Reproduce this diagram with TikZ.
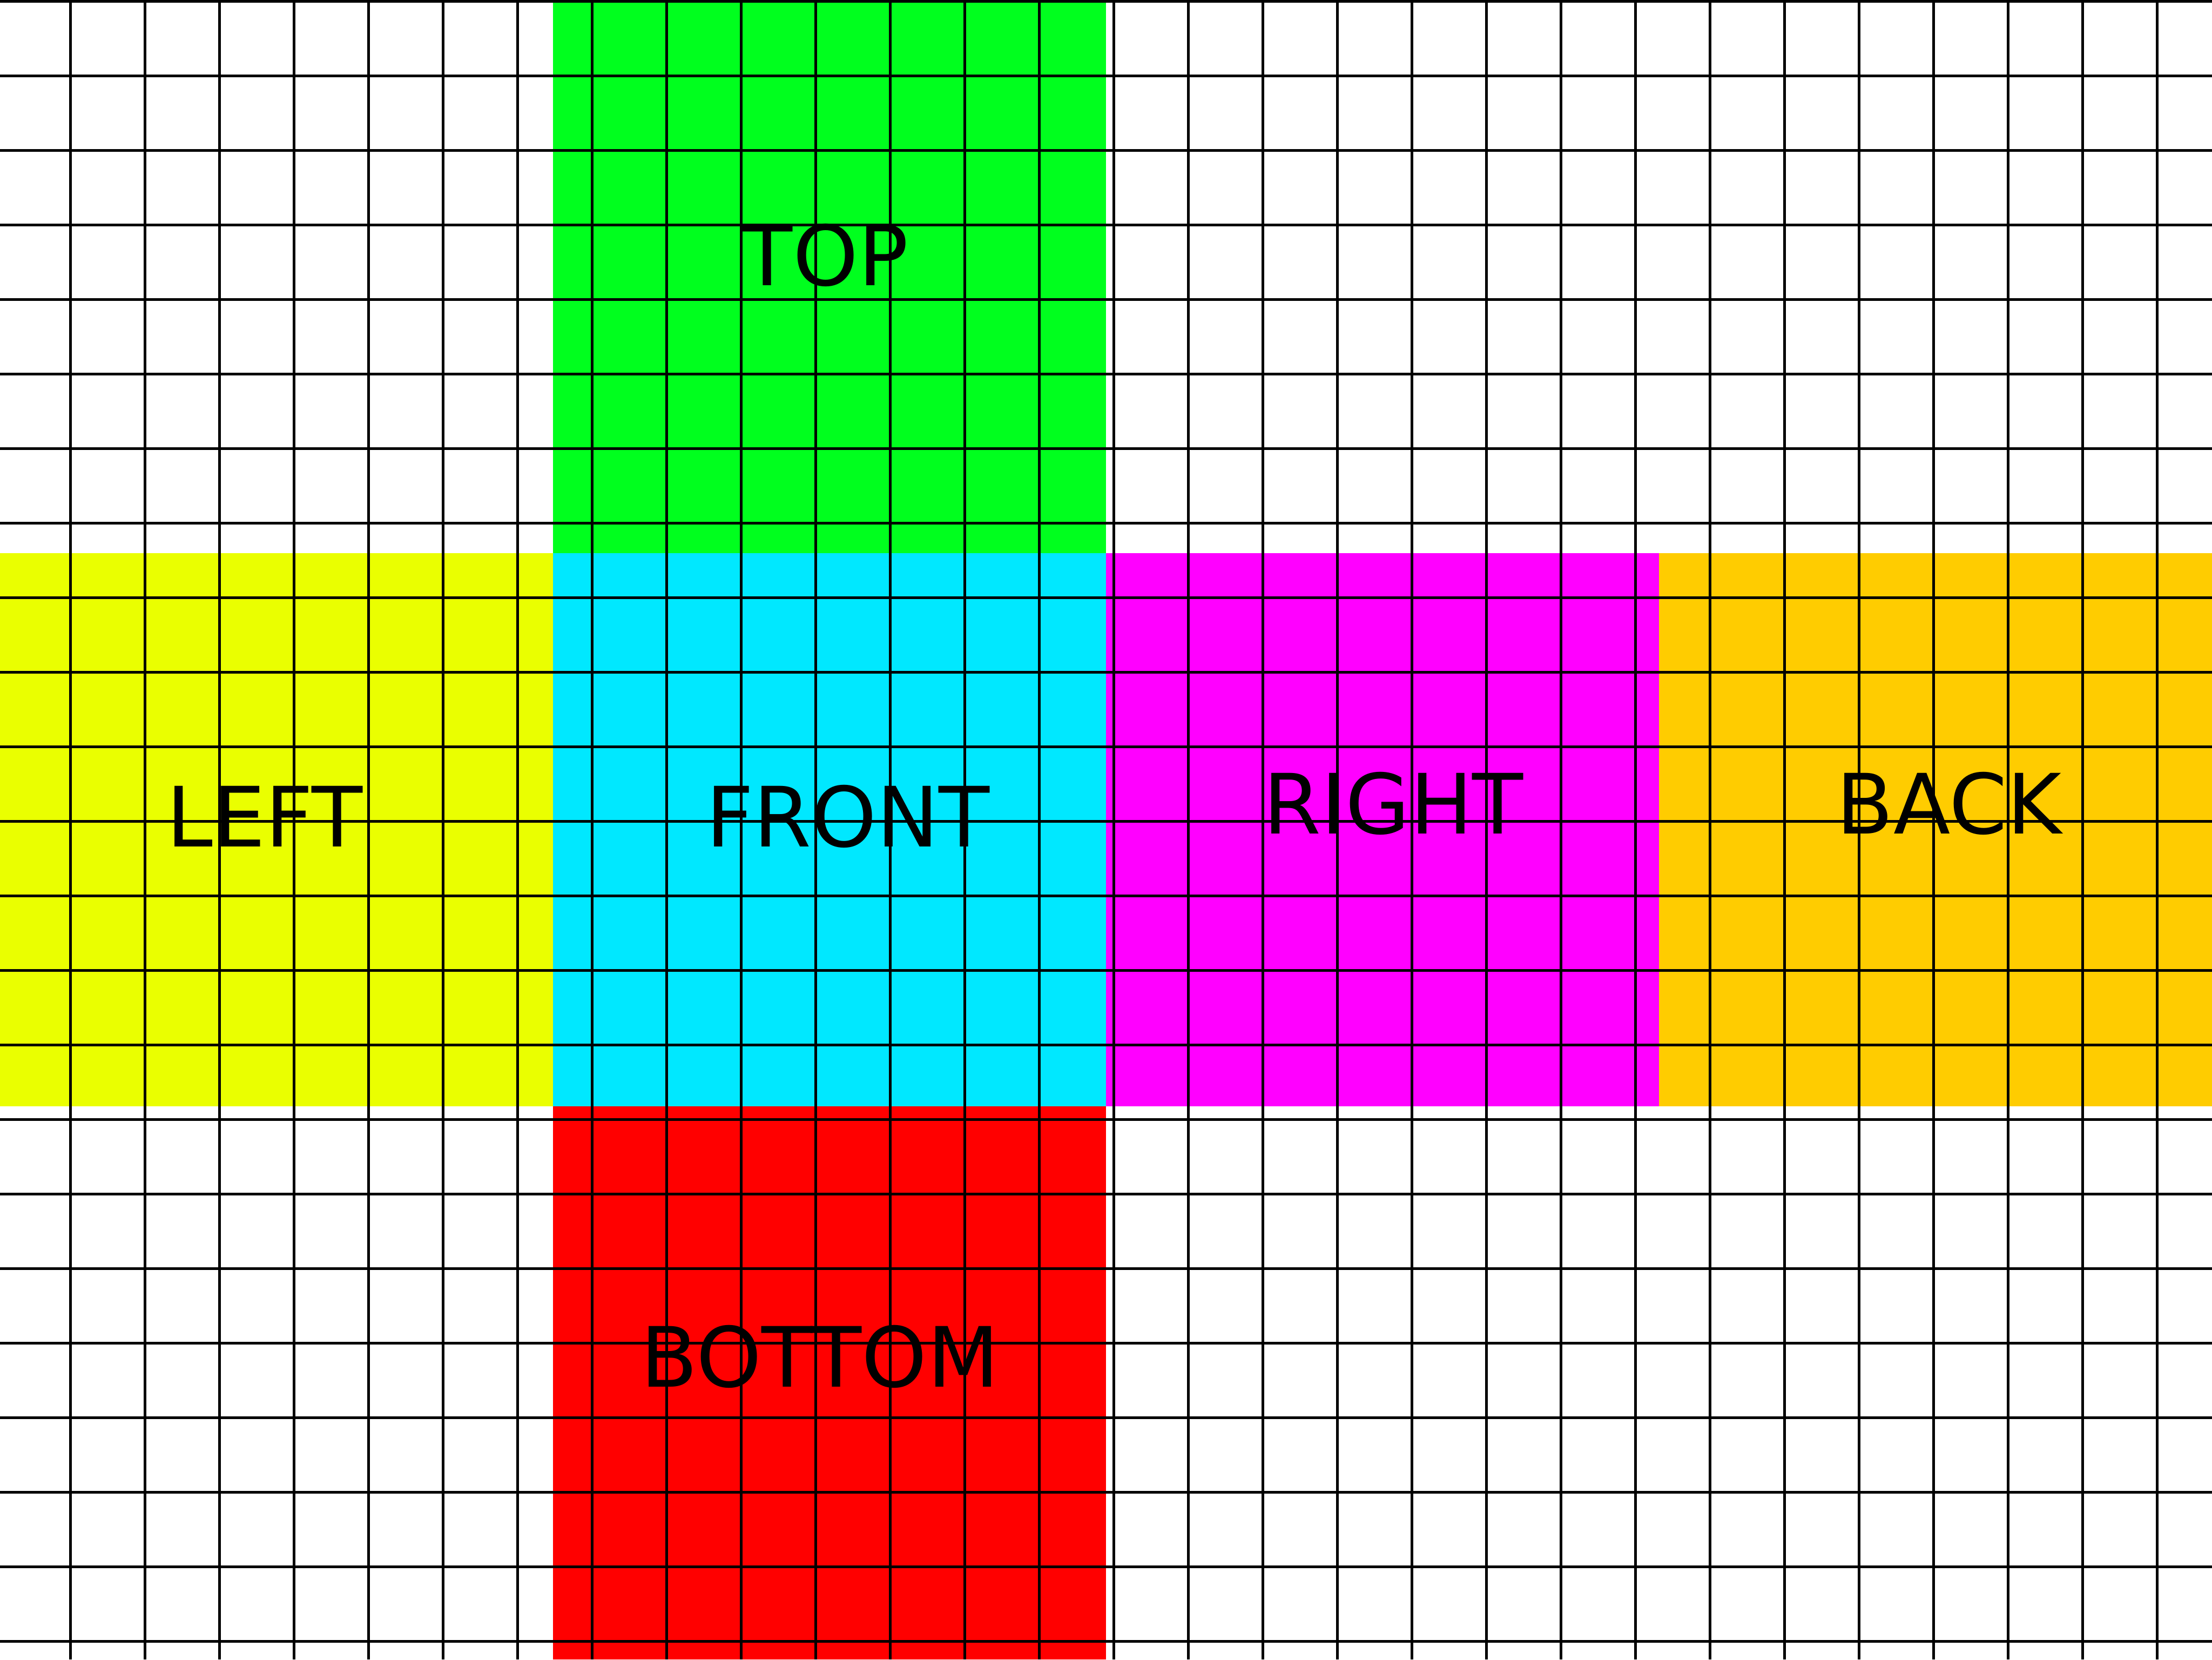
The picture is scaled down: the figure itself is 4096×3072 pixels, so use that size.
\documentclass[tikz,border=0pt]{standalone}
\usepackage{fontspec}
\setmainfont{DejaVu Sans}
\definecolor{ctop}{RGB}{0,255,30}
\definecolor{cleft}{RGB}{234,255,0}
\definecolor{cfront}{RGB}{0,232,255}
\definecolor{cright}{RGB}{255,0,255}
\definecolor{cback}{RGB}{255,204,0}
\definecolor{cbottom}{RGB}{255,0,0}
\begin{document}
\begin{tikzpicture}[x=0.1pt,y=-0.1pt,
  gridline/.style={black,line width=0.47pt},
  facelabel/.style={anchor=base,inner sep=0pt,text=black,font=\fontsize{15.4pt}{18pt}\selectfont}]
\useasboundingbox (0,0) rectangle (4096,3072);
\fill[white] (0,0) rectangle (4096,3072);
% faces
\fill[ctop] (1024,0) rectangle (2048,1024);
\fill[cleft] (0,1024) rectangle (1024,2048);
\fill[cfront] (1024,1024) rectangle (2048,2048);
\fill[cright] (2048,1024) rectangle (3072,2048);
\fill[cback] (3072,1024) rectangle (4096,2048);
\fill[cbottom] (1024,2048) rectangle (2048,3072);
% grid
\foreach \i in {0,...,28} \draw[gridline] ({130.3+138*\i},0) -- ({130.3+138*\i},3072);
\foreach \j in {0,...,22} \draw[gridline] (0,{2.3+138*\j}) -- (4096,{2.3+138*\j});
% labels
\node[facelabel] (top) at (1528,528) {TOP};
\node[facelabel] (left) at (490,1567) {LEFT};
\node[facelabel] (front) at (1570,1567) {FRONT};
\node[facelabel] (right) at (2580,1543) {RIGHT};
\node[facelabel] (back) at (3609,1543) {BACK};
\node[facelabel] (bottom) at (1518,2567) {BOTTOM};
\end{tikzpicture}
\end{document}
